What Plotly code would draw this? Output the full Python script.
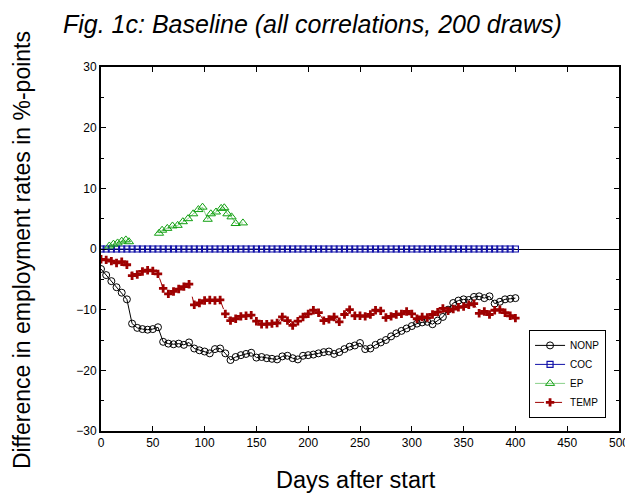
import plotly.graph_objects as go

days = list(range(0, 401, 5))

nonp = [-3.3, -4.3, -5.3, -6.3, -7.2, -8.3, -12.3, -13.0, -13.2, -13.3,
        -13.2, -12.9, -15.3, -15.6, -15.7, -15.6, -15.8, -15.4, -16.4, -16.7,
        -16.9, -17.2, -16.5, -16.4, -17.2, -18.3, -17.8, -17.5, -17.3, -17.1,
        -17.9, -17.8, -18.0, -18.1, -18.2, -17.7, -17.6, -18.0, -18.2, -17.6,
        -17.5, -17.4, -17.2, -17.0, -16.9, -17.3, -17.0, -16.5, -16.1, -15.9,
        -15.5, -16.5, -16.4, -15.8, -15.4, -15.0, -14.4, -13.9, -13.5, -13.1,
        -12.7, -12.3, -12.1, -12.0, -12.4, -11.8, -11.2, -10.0, -8.9, -8.5,
        -8.3, -8.4, -7.9, -7.8, -8.1, -7.8, -9.0, -8.7, -8.3, -8.2, -8.1]

temp = [-1.7, -1.8, -2.0, -2.3, -2.1, -2.6, -4.4, -4.2, -3.7, -3.5,
        -3.6, -4.1, -6.5, -7.4, -7.0, -6.6, -6.2, -5.8, -9.2, -8.9,
        -8.5, -8.4, -8.5, -8.4, -10.7, -11.8, -11.5, -11.1, -11.0, -10.9,
        -11.9, -12.4, -12.4, -12.3, -12.2, -11.2, -11.8, -12.6, -11.9, -11.2,
        -10.7, -10.1, -10.5, -11.8, -11.6, -11.2, -12.0, -10.8, -10.0, -11.0,
        -11.0, -11.1, -10.8, -10.1, -10.2, -11.3, -11.1, -10.8, -10.7, -10.3,
        -10.7, -11.5, -11.2, -11.3, -10.8, -10.4, -9.8, -10.2, -9.9, -9.6,
        -9.5, -9.2, -9.0, -10.6, -10.3, -10.8, -10.1, -10.0, -10.5, -11.0, -11.4]

coc = [0.0] * len(days)

ep_days = [8, 12, 16, 20, 24, 27, 40, 56, 59, 64, 69, 74, 79, 84, 89, 94, 98,
           103, 106, 111, 116, 119, 122, 126, 130, 137]
ep_vals = [0.5, 0.8, 1.0, 1.3, 1.5, 1.2, None, 2.6, 3.1, 3.4, 3.8, 3.9, 4.5,
           5.0, 5.8, 6.5, 6.9, 4.9, 5.8, 6.1, 6.7, 6.8, 5.8, 5.3, 4.2, 4.3]

x_ticks = list(range(0, 501, 50))
y_ticks = list(range(-30, 31, 10))

fig = go.Figure()
fig.add_trace(go.Scatter(x=days, y=nonp, name="NONP", mode="lines+markers",
                         line=dict(color="black", width=1),
                         marker=dict(symbol="circle-open", size=7, color="black",
                                     line=dict(width=1))))
fig.add_trace(go.Scatter(x=days, y=coc, name="COC", mode="lines+markers",
                         line=dict(color="#1010a8", width=1),
                         marker=dict(symbol="square-open", size=6, color="#1010a8",
                                     line=dict(width=1.2))))
fig.add_trace(go.Scatter(x=ep_days, y=ep_vals, name="EP", mode="lines+markers",
                         connectgaps=False,
                         line=dict(color="#12a012", width=0.5),
                         marker=dict(symbol="triangle-up-open", size=8, color="#12a012",
                                     line=dict(width=1))))
fig.add_trace(go.Scatter(x=days, y=temp, name="TEMP", mode="lines+markers",
                         line=dict(color="#9e0000", width=1, dash="dash"),
                         marker=dict(symbol="cross", size=7, color="#9e0000",
                                     line=dict(width=0))))

font_main = "Liberation Sans, Arial, Helvetica, sans-serif"

fig.update_layout(
    width=625, height=491,
    margin=dict(l=93, r=14, t=59, b=68),
    paper_bgcolor="white", plot_bgcolor="white",
    showlegend=True,
    legend=dict(x=0.975, xanchor="right", y=0.036, yanchor="bottom",
                bordercolor="black", borderwidth=1, bgcolor="white",
                font=dict(family=font_main, size=10, color="black"),
                tracegroupgap=0, itemwidth=30),
    font=dict(family=font_main, color="black"),
)
fig.update_xaxes(range=[0, 500], tickvals=x_ticks, ticks="inside", ticklen=5,
                 tickcolor="black", showline=True, linecolor="black", linewidth=2,
                 mirror="allticks", showgrid=False, zeroline=False, automargin=False,
                 tickfont=dict(size=12, color="black", family=font_main))
fig.update_yaxes(range=[-30, 30], tickvals=y_ticks, ticks="inside", ticklen=5,
                 tickcolor="black", showline=True, linecolor="black", linewidth=2,
                 mirror="allticks", showgrid=False, zeroline=True, automargin=False,
                 zerolinecolor="black", zerolinewidth=1,
                 minor=dict(ticks="inside", ticklen=3, dtick=5, tickcolor="black",
                            showgrid=False),
                 tickfont=dict(size=12, color="black", family=font_main))

fig.add_annotation(text="<i>Fig. 1c: Baseline (all correlations, 200 draws)</i>",
                   xref="paper", yref="paper", x=-0.077, y=1.162,
                   xanchor="left", yanchor="top", showarrow=False,
                   font=dict(family=font_main, size=25, color="black"))
fig.add_annotation(text="Difference in employment rates in %-points",
                   xref="paper", yref="paper", x=-0.1525, y=0.497,
                   xanchor="center", yanchor="middle", textangle=-90, showarrow=False,
                   font=dict(family=font_main, size=23, color="black"))
fig.add_annotation(text="Days after start",
                   xref="paper", yref="paper", x=0.492, y=-0.134,
                   xanchor="center", yanchor="middle", showarrow=False,
                   font=dict(family=font_main, size=23.5, color="black"))

fig.write_html("out.html")
